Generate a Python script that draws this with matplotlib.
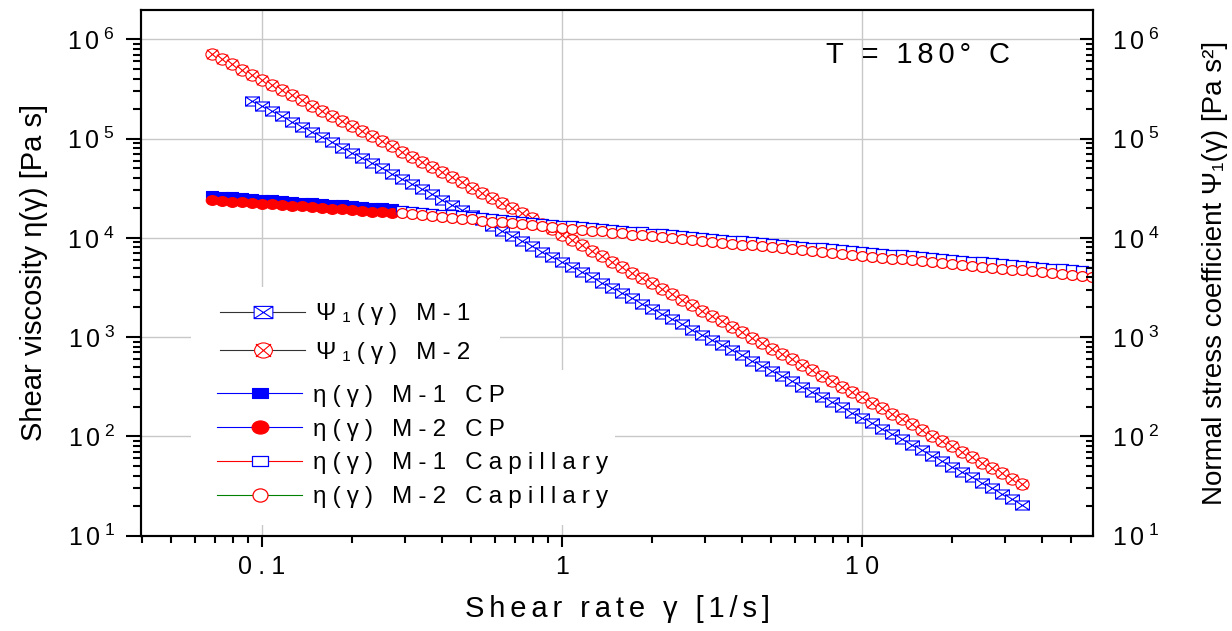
import numpy as np
import matplotlib
matplotlib.use("Agg")
import matplotlib.pyplot as plt
from matplotlib.path import Path
from matplotlib.markers import MarkerStyle
from matplotlib.patches import Rectangle
from matplotlib.ticker import FixedLocator, FixedFormatter, NullFormatter, LogLocator

plt.rcParams['font.family'] = ['Liberation Sans', 'DejaVu Sans']
plt.rcParams['mathtext.fontset'] = 'custom'
plt.rcParams['mathtext.rm'] = 'Liberation Sans'

# ---------------- data ----------------
shear_rate = [0.06813, 0.07356, 0.07943, 0.08577, 0.09261,
              0.1000, 0.1080, 0.1166, 0.1259, 0.1359, 0.1468, 0.1585, 0.1711, 0.1848, 0.1995,
              0.2154, 0.2326, 0.2512, 0.2712, 0.2929, 0.3162, 0.3415, 0.3687, 0.3981, 0.4299,
              0.4642, 0.5012, 0.5412, 0.5843, 0.6310, 0.6813, 0.7356, 0.7943, 0.8577, 0.9261,
              1.000, 1.080, 1.166, 1.259, 1.359, 1.468, 1.585, 1.711, 1.848, 1.995,
              2.154, 2.326, 2.512, 2.712, 2.929, 3.162, 3.415, 3.687, 3.981, 4.299,
              4.642, 5.012, 5.412, 5.843, 6.310, 6.813, 7.356, 7.943, 8.577, 9.261,
              10.00, 10.80, 11.66, 12.59, 13.59, 14.68, 15.85, 17.11, 18.48, 19.95,
              21.54, 23.26, 25.12, 27.12, 29.29, 31.62, 34.15, 36.87, 39.81, 42.99,
              46.42, 50.12, 54.12, 58.43, 63.10]

rate_psi_m1 = shear_rate[4:82]
rate_psi_m2 = shear_rate[0:82]
rate_cp = shear_rate[0:19]
rate_cap = shear_rate[19:90]

psi1_m1 = [2.40e5, 2.14e5, 1.88e5, 1.67e5, 1.48e5, 1.31e5, 1.16e5, 1.03e5, 9.15e4, 8.11e4,
           7.19e4, 6.37e4, 5.65e4, 5.01e4, 4.44e4, 3.94e4, 3.49e4, 3.09e4, 2.74e4, 2.43e4,
           2.16e4, 1.91e4, 1.69e4, 1.50e4, 1.33e4, 1.18e4, 1.04e4, 9.27e3, 8.22e3, 7.28e3,
           6.46e3, 5.73e3, 5.07e3, 4.50e3, 3.99e3, 3.53e3, 3.13e3, 2.78e3, 2.46e3, 2.18e3,
           1.94e3, 1.71e3, 1.52e3, 1.35e3, 1.19e3, 1.06e3, 9.40e2, 8.32e2, 7.38e2, 6.55e2,
           5.79e2, 5.14e2, 4.56e2, 4.04e2, 3.58e2, 3.18e2, 2.81e2, 2.49e2, 2.21e2, 1.96e2,
           1.74e2, 1.54e2, 1.36e2, 1.20e2, 1.06e2, 9.31e1, 8.22e1, 7.24e1, 6.38e1, 5.64e1,
           4.97e1, 4.38e1, 3.86e1, 3.40e1, 3.00e1, 2.65e1, 2.33e1, 2.06e1]

psi1_m2 = [7.08e5, 6.28e5, 5.58e5, 4.95e5, 4.40e5, 3.91e5, 3.47e5, 3.08e5, 2.74e5, 2.43e5,
           2.15e5, 1.91e5, 1.70e5, 1.51e5, 1.34e5, 1.19e5, 1.05e5, 9.38e4, 8.32e4, 7.38e4,
           6.56e4, 5.82e4, 5.16e4, 4.59e4, 4.07e4, 3.61e4, 3.21e4, 2.85e4, 2.53e4, 2.25e4,
           2.00e4, 1.77e4, 1.57e4, 1.39e4, 1.22e4, 1.08e4, 9.51e3, 8.38e3, 7.39e3, 6.52e3,
           5.74e3, 5.07e3, 4.47e3, 3.94e3, 3.48e3, 3.06e3, 2.70e3, 2.38e3, 2.10e3, 1.85e3,
           1.63e3, 1.44e3, 1.27e3, 1.12e3, 9.86e2, 8.69e2, 7.67e2, 6.76e2, 5.96e2, 5.26e2,
           4.63e2, 4.08e2, 3.61e2, 3.18e2, 2.80e2, 2.47e2, 2.18e2, 1.92e2, 1.69e2, 1.49e2,
           1.32e2, 1.16e2, 1.02e2, 9.02e1, 7.96e1, 7.01e1, 6.18e1, 5.46e1, 4.81e1, 4.24e1,
           3.74e1, 3.30e1]

eta_m1_cp = [2.69e4, 2.65e4, 2.61e4, 2.56e4, 2.52e4, 2.48e4, 2.44e4, 2.39e4, 2.36e4, 2.32e4,
             2.28e4, 2.24e4, 2.20e4, 2.17e4, 2.13e4, 2.10e4, 2.06e4, 2.03e4, 2.00e4]
eta_m2_cp = [2.40e4, 2.36e4, 2.32e4, 2.28e4, 2.24e4, 2.21e4, 2.17e4, 2.13e4, 2.10e4, 2.07e4,
             2.03e4, 2.00e4, 1.96e4, 1.93e4, 1.90e4, 1.87e4, 1.84e4, 1.81e4, 1.78e4]

eta_m1_cap = [1.90e4, 1.86e4, 1.83e4, 1.79e4, 1.75e4, 1.72e4, 1.68e4, 1.65e4, 1.61e4, 1.58e4,
              1.55e4, 1.51e4, 1.48e4, 1.45e4, 1.42e4, 1.39e4, 1.36e4, 1.34e4, 1.31e4, 1.28e4,
              1.26e4, 1.23e4, 1.21e4, 1.18e4, 1.16e4, 1.13e4, 1.11e4, 1.09e4, 1.07e4, 1.04e4,
              1.02e4, 1.00e4, 9.81e3, 9.61e3, 9.42e3, 9.23e3, 9.04e3, 8.86e3, 8.68e3, 8.51e3,
              8.34e3, 8.17e3, 8.01e3, 7.85e3, 7.69e3, 7.54e3, 7.39e3, 7.24e3, 7.09e3, 6.95e3,
              6.81e3, 6.67e3, 6.54e3, 6.41e3, 6.28e3, 6.15e3, 6.03e3, 5.91e3, 5.79e3, 5.67e3,
              5.56e3, 5.45e3, 5.34e3, 5.23e3, 5.13e3, 5.02e3, 4.92e3, 4.82e3, 4.73e3, 4.63e3,
              4.54e3]

eta_m2_cap = [1.78e4, 1.74e4, 1.70e4, 1.66e4, 1.63e4, 1.59e4, 1.56e4, 1.53e4, 1.49e4, 1.46e4,
              1.43e4, 1.40e4, 1.37e4, 1.34e4, 1.31e4, 1.29e4, 1.26e4, 1.23e4, 1.21e4, 1.18e4,
              1.16e4, 1.13e4, 1.11e4, 1.08e4, 1.06e4, 1.04e4, 1.02e4, 9.94e3, 9.73e3, 9.52e3,
              9.32e3, 9.12e3, 8.93e3, 8.74e3, 8.55e3, 8.37e3, 8.19e3, 8.02e3, 7.85e3, 7.68e3,
              7.52e3, 7.36e3, 7.20e3, 7.05e3, 6.90e3, 6.75e3, 6.61e3, 6.47e3, 6.33e3, 6.19e3,
              6.06e3, 5.93e3, 5.81e3, 5.68e3, 5.56e3, 5.44e3, 5.33e3, 5.22e3, 5.11e3, 5.00e3,
              4.89e3, 4.79e3, 4.69e3, 4.59e3, 4.49e3, 4.39e3, 4.30e3, 4.21e3, 4.12e3, 4.03e3,
              3.94e3]

series_labels = ["Ψ₁(γ) M-1", "Ψ₁(γ) M-2", "η(γ) M-1 CP", "η(γ) M-2 CP",
                 "η(γ) M-1 Capillary", "η(γ) M-2 Capillary"]
x_ticks = [0.1, 1, 10]
x_tick_labels = ["0.1", "1", "10"]
y_ticks = [1e1, 1e2, 1e3, 1e4, 1e5, 1e6]
y_exponents = ["1", "2", "3", "4", "5", "6"]


# ---------------- helpers ----------------
def spaced(s, gap):
    return gap.join(s)


def box_path(w, h, cross):
    v = [(-w, -h), (w, -h), (w, h), (-w, h), (-w, -h)]
    c = [Path.MOVETO, Path.LINETO, Path.LINETO, Path.LINETO, Path.CLOSEPOLY]
    if cross:
        v += [(-w, -h), (w, h), (-w, h), (w, -h)]
        c += [Path.MOVETO, Path.LINETO, Path.MOVETO, Path.LINETO]
    return Path(v, c)


def ellipse_path(w, h, cross):
    circ = Path.unit_circle()
    p = Path(circ.vertices * np.array([w, h]), circ.codes)
    if cross:
        d = 0.85
        x = Path([(-d * w, -d * h), (d * w, d * h), (-d * w, d * h), (d * w, -d * h)],
                 [Path.MOVETO, Path.LINETO, Path.MOVETO, Path.LINETO])
        p = Path.make_compound_path(p, x)
    return p


m_box_x = MarkerStyle(box_path(1.0, 0.65, True))
m_circ_x = MarkerStyle(ellipse_path(1.0, 0.85, True))
m_box = MarkerStyle(box_path(1.0, 0.65, False))
m_circ_f = MarkerStyle(ellipse_path(1.0, 0.78, False))
m_circ_o = MarkerStyle(ellipse_path(1.0, 0.88, False))

BLUE = '#0000ff'
RED = '#ff0000'
GREEN = '#008000'
DARK = '#333333'
LEG_GAP = '\u2005'

# ---------------- figure ----------------
fig = plt.figure(figsize=(12.32, 6.31), dpi=100)
ax = fig.add_axes([0.11445, 0.15103, 0.77273, 0.83312])
ax.set_xscale('log')
ax.set_yscale('log')

h1, = ax.plot(rate_psi_m1, psi1_m1, color=DARK, lw=0.8, marker=m_box_x, ms=10,
              mec=BLUE, mfc='white', mew=0.8, label=spaced(series_labels[0], LEG_GAP), zorder=2)
h2, = ax.plot(rate_psi_m2, psi1_m2, color=DARK, lw=0.8, marker=m_circ_x, ms=9.5,
              mec=RED, mfc='white', mew=0.8, label=spaced(series_labels[1], LEG_GAP), zorder=2)
h3, = ax.plot(rate_cp, eta_m1_cp, color=BLUE, lw=0.8, marker=m_box, ms=9,
              mec=BLUE, mfc=BLUE, mew=0.8, label=spaced(series_labels[2], LEG_GAP), zorder=2)
h4, = ax.plot(rate_cp, eta_m2_cp, color=BLUE, lw=0.8, marker=m_circ_f, ms=9,
              mec=RED, mfc=RED, mew=0.8, label=spaced(series_labels[3], LEG_GAP), zorder=2)
h5, = ax.plot(rate_cap, eta_m1_cap, color=RED, lw=0.8, marker=m_box, ms=9,
              mec=BLUE, mfc='white', mew=0.9, label=spaced(series_labels[4], LEG_GAP), zorder=2)
h6, = ax.plot(rate_cap, eta_m2_cap, color=GREEN, lw=0.8, marker=m_circ_o, ms=8,
              mec=RED, mfc='white', mew=0.9, label=spaced(series_labels[5], LEG_GAP), zorder=2)

ax.set_xlim(0.0396, 59)
ax.set_ylim(10, 1.97e6)

ax.grid(True, which='major', color='#c8c8c8', lw=1.0)
ax.set_axisbelow(True)

# x ticks
ax.xaxis.set_major_locator(FixedLocator(x_ticks))
ax.xaxis.set_major_formatter(FixedFormatter([spaced(t, '\u2005') for t in x_tick_labels]))
ax.xaxis.set_minor_locator(LogLocator(base=10, subs=np.arange(2, 10) * 1.0, numticks=30))
ax.xaxis.set_minor_formatter(NullFormatter())

ylabels = [r'$\mathregular{1\,0^{\;%s}}$' % e for e in y_exponents]
ax.yaxis.set_major_locator(FixedLocator(y_ticks))
ax.yaxis.set_major_formatter(FixedFormatter(ylabels))
ax.yaxis.set_minor_locator(LogLocator(base=10, subs=np.arange(2, 10) * 1.0, numticks=30))
ax.yaxis.set_minor_formatter(NullFormatter())

ax.tick_params(axis='x', which='major', direction='out', length=8, width=1.5,
               labelsize=18, pad=6, top=False)
ax.tick_params(axis='x', which='minor', direction='out', length=5, width=1.5, top=False)
ax.tick_params(axis='y', which='major', direction='out', length=10.5, width=1.5,
               labelsize=18, pad=8, right=False)
ax.tick_params(axis='y', which='minor', direction='out', length=5.5, width=1.5, right=False)
for s in ax.spines.values():
    s.set_linewidth(1.5)
    s.set_color('black')

# right axis (same scale)
ax2 = ax.twinx()
ax2.set_yscale('log')
ax2.set_ylim(ax.get_ylim())
ax2.yaxis.set_major_locator(FixedLocator(y_ticks))
ax2.yaxis.set_major_formatter(FixedFormatter(ylabels))
ax2.yaxis.set_minor_locator(LogLocator(base=10, subs=np.arange(2, 10) * 1.0, numticks=30))
ax2.yaxis.set_minor_formatter(NullFormatter())
ax2.tick_params(axis='y', which='major', direction='in', length=9.5, width=1.5,
                labelsize=18, pad=14, left=False)
ax2.tick_params(axis='y', which='minor', direction='in', length=5, width=1.5, left=False)
for s in ax2.spines.values():
    s.set_linewidth(1.5)
    s.set_color('black')

# axis labels
ax.set_xlabel(spaced("Shear rate γ [1/s]", '\u2006'), fontsize=21)
ax.xaxis.set_label_coords(0.5, -0.112)
ax.set_ylabel("Shear viscosity η(γ) [Pa s]", fontsize=21)
ax.yaxis.set_label_coords(-0.098, 0.5)
ax2.set_ylabel("Normal stress coefficient Ψ₁(γ) [Pa s²]", fontsize=20)
ax2.yaxis.set_label_coords(1.115, 0.5)

# annotation
ax.text(0.816, 0.914, spaced("T = 180° C", '\u2006'), transform=ax.transAxes,
        fontsize=21, ha='center', va='center')

# white backgrounds behind the legend entries
ax.add_patch(Rectangle((0.0525, 0.315), 0.3245, 0.158, transform=ax.transAxes,
                       facecolor='white', edgecolor='none', zorder=1.2))
ax.add_patch(Rectangle((0.0525, 0.02), 0.4455, 0.295, transform=ax.transAxes,
                       facecolor='white', edgecolor='none', zorder=1.2))

leg1 = ax.legend(handles=[h1, h2], loc='center left', bbox_to_anchor=(0.083, 0.3846),
                 frameon=False, fontsize=17.5, borderpad=0, borderaxespad=0,
                 handlelength=3.5, handletextpad=0.45, labelspacing=0.68, markerscale=1.35)
ax.add_artist(leg1)
leg2 = ax.legend(handles=[h3, h4, h5, h6], loc='center left', bbox_to_anchor=(0.0798, 0.1697),
                 frameon=False, fontsize=17.5, borderpad=0, borderaxespad=0,
                 handlelength=3.5, handletextpad=0.45, labelspacing=0.48, markerscale=1.35)

fig.savefig("out.png", dpi=100)
